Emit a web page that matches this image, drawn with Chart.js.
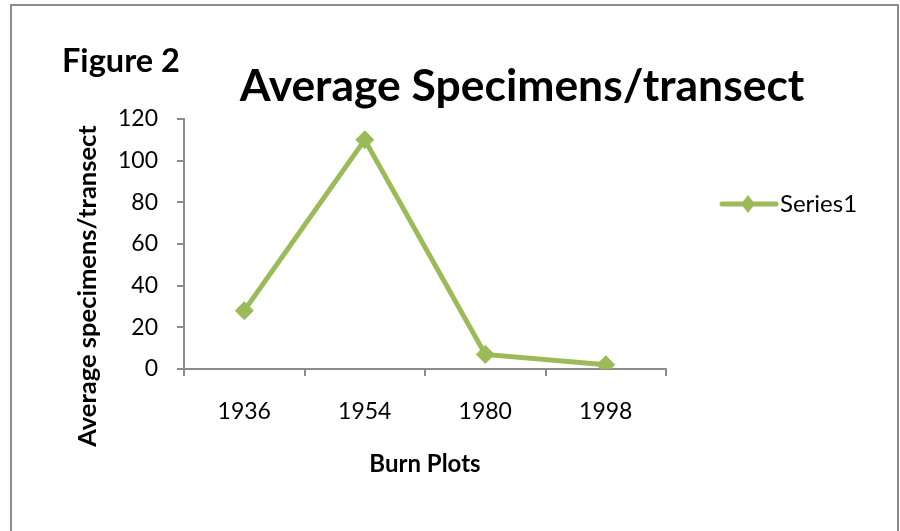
<!DOCTYPE html>
<html><head><meta charset="utf-8">
<script src="https://cdn.jsdelivr.net/npm/chart.js@4"></script>
<style>
html,body{margin:0;padding:0;background:#fff;overflow:hidden}
#wrap{position:relative;width:900px;height:531px;overflow:hidden}
#frame{position:absolute;left:10px;top:4px;width:889px;height:600px;border:2px solid #8c8c8c;box-sizing:border-box}
canvas{position:absolute;left:0;top:0}
</style></head><body>
<div id="wrap"><div id="frame"></div><canvas id="c" width="900" height="531"></canvas></div>
<script>
const categories = ['1936', '1954', '1980', '1998'];
const values = [28, 110, 7, 2];
const yTicks = [0, 20, 40, 60, 80, 100, 120];
const seriesName = 'Series1';
const chartTitle = 'Average Specimens/transect';
const figureLabel = 'Figure 2';
const xTitle = 'Burn Plots';
const yTitle = 'Average specimens/transect';

const GREEN = '#9BBB59';
const AXIS = '#8c8c8c';
const FAM = 'Lato, "Open Sans", sans-serif';

function fitFont(ctx, text, weight, targetW) {
  ctx.font = weight + ' 100px ' + FAM;
  const w = ctx.measureText(text).width;
  return 100 * targetW / w;
}

const decor = {
  id: 'decor',
  afterDraw(chart) {
    const ctx = chart.ctx;
    ctx.save();
    ctx.fillStyle = '#000';
    // Figure label
    let s = fitFont(ctx, figureLabel, 'bold', 118);
    ctx.font = 'bold ' + s + 'px ' + FAM;
    ctx.textAlign = 'left'; ctx.textBaseline = 'alphabetic';
    ctx.fillText(figureLabel, 62, 72);
    // Main title
    s = fitFont(ctx, chartTitle, 'bold', 565);
    ctx.font = 'bold ' + s + 'px ' + FAM;
    ctx.textAlign = 'center';
    ctx.fillText(chartTitle, 522, 101);
    // Y title
    s = fitFont(ctx, yTitle, 'bold', 322);
    ctx.font = 'bold ' + s + 'px ' + FAM;
    ctx.translate(88, 286);
    ctx.rotate(-Math.PI / 2);
    ctx.textAlign = 'center'; ctx.textBaseline = 'middle';
    ctx.fillText(yTitle, 0, 0);
    ctx.setTransform(1, 0, 0, 1, 0, 0);
    // Legend
    const ly = 204;
    ctx.strokeStyle = GREEN; ctx.lineWidth = 5; ctx.lineCap = 'round';
    ctx.beginPath(); ctx.moveTo(722, ly); ctx.lineTo(776, ly); ctx.stroke();
    ctx.fillStyle = GREEN;
    ctx.beginPath();
    ctx.moveTo(748 - 7, ly); ctx.lineTo(748, ly - 9); ctx.lineTo(748 + 7, ly); ctx.lineTo(748, ly + 9);
    ctx.closePath(); ctx.fill();
    ctx.fillStyle = '#000';
    ctx.font = '24px ' + FAM;
    ctx.textAlign = 'left'; ctx.textBaseline = 'middle';
    ctx.fillText(chart.data.datasets[0].label, 780, ly);
    ctx.restore();
  }
};

new Chart(document.getElementById('c'), {
  type: 'line',
  data: {
    labels: categories,
    datasets: [{
      label: seriesName,
      data: values,
      borderColor: GREEN,
      backgroundColor: GREEN,
      borderWidth: 5,
      pointStyle: 'rectRot',
      pointRadius: 9,
      pointHoverRadius: 9,
      pointBorderWidth: 1,
      tension: 0
    }]
  },
  options: {
    responsive: false,
    animation: false,
    events: [],
    layout: { padding: { top: 119, right: 234, left: 0, bottom: 0 } },
    plugins: { legend: { display: false }, title: { display: false }, tooltip: { enabled: false } },
    scales: {
      x: {
        offset: true,
        grid: { offset: true, drawOnChartArea: false, drawTicks: true, tickLength: 7, tickColor: AXIS, lineWidth: 2 },
        border: { color: AXIS, width: 2 },
        ticks: { font: { family: FAM, size: 23 }, color: '#000', padding: 22 },
        title: { display: true, text: xTitle, color: '#000', font: { family: FAM, size: 24, weight: 'bold' }, padding: { top: 0, bottom: 52 } },
        afterFit(s) { s.height = 162; }
      },
      y: {
        min: 0, max: 120,
        afterBuildTicks(s) { s.ticks = yTicks.map(v => ({ value: v })); },
        grid: { drawOnChartArea: false, drawTicks: true, tickLength: 7, tickColor: AXIS, lineWidth: 2 },
        border: { color: AXIS, width: 2 },
        ticks: { font: { family: FAM, size: 23 }, color: '#000', padding: 19 },
        afterFit(s) { s.width = 184; }
      }
    }
  },
  plugins: [decor]
});
</script>
</body></html>
